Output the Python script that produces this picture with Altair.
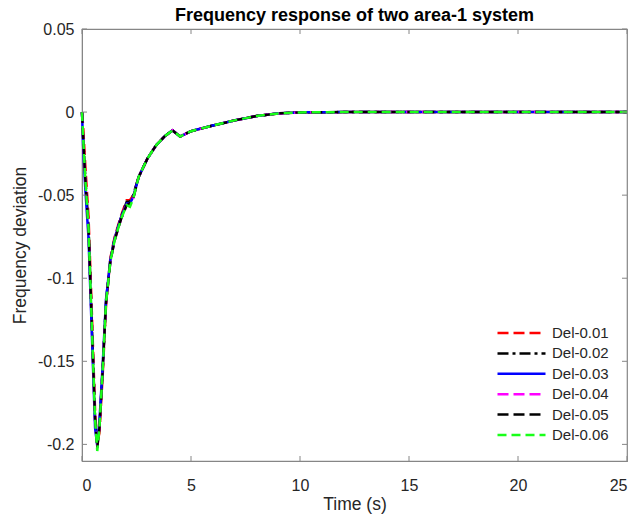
import altair as alt
import pandas as pd

# ---------------- data ----------------
time_s = [0, 0.05, 0.15, 0.3, 0.45, 0.6, 0.7, 0.8, 0.95, 1.1, 1.3, 1.5, 1.8, 2.05, 2.2, 2.35,
          2.6, 3.0, 3.4, 3.8, 4.15, 4.5, 5.0, 5.5, 6.0, 7.0, 8.0, 9.0, 10, 12, 15, 20, 25]

tail = [-0.039, -0.028, -0.020, -0.0145, -0.011, -0.0147, -0.0115, -0.0098, -0.0081,
        -0.005, -0.0024, -0.0008, -0.0002, 0, 0, 0, 0]

del_001 = [0, -0.008, -0.032, -0.063, -0.120, -0.180, -0.199, -0.193, -0.158, -0.117,
           -0.088, -0.075, -0.062, -0.053, -0.053, -0.050] + tail
del_002 = [0, -0.014, -0.039, -0.069, -0.127, -0.184, -0.200, -0.189, -0.154, -0.114,
           -0.089, -0.076, -0.063, -0.054, -0.054, -0.050] + tail
del_003 = [0, -0.020, -0.046, -0.076, -0.133, -0.190, -0.201, -0.186, -0.152, -0.113,
           -0.089, -0.076, -0.063, -0.055, -0.055, -0.051] + tail
del_004 = [0, -0.015, -0.040, -0.070, -0.128, -0.185, -0.202, -0.190, -0.155, -0.115,
           -0.090, -0.077, -0.064, -0.056, -0.056, -0.052] + tail
del_005 = [0, -0.015, -0.040, -0.070, -0.128, -0.185, -0.202, -0.190, -0.155, -0.115,
           -0.090, -0.077, -0.064, -0.056, -0.055, -0.052] + tail
del_006 = [0, -0.015, -0.040, -0.070, -0.128, -0.185, -0.204, -0.190, -0.155, -0.115,
           -0.090, -0.077, -0.064, -0.056, -0.057, -0.052] + tail

series_names = ["Del-0.01", "Del-0.02", "Del-0.03", "Del-0.04", "Del-0.05", "Del-0.06"]
series_values = [del_001, del_002, del_003, del_004, del_005, del_006]

x_ticks = [0, 5, 10, 15, 20, 25]
y_ticks = [0.05, 0, -0.05, -0.1, -0.15, -0.2]

# ---------------- styles ----------------
series_colors = ["#ff0000", "#000000", "#0000ff", "#ff00ff", "#000000", "#19ff19"]
series_dash = [[11, 5], [11, 4, 3, 4], [1, 0], [11, 5], [11, 5], [9, 5]]
series_width = [2.5, 2.5, 2.5, 2.5, 3, 5]

W, H = 545, 432
TICK = 5

rows = []
for name, vals in zip(series_names, series_values):
    for t, v in zip(time_s, vals):
        rows.append({"t": t, "v": v, "series": name})
df = pd.DataFrame(rows)
xt = pd.DataFrame({"tick": x_ticks})
yt = pd.DataFrame({"tick": y_ticks})

FONT = "Liberation Sans"
AX = "#868686"
TXT = "#262626"

x_scale = alt.Scale(domain=[0, 25], nice=False, zero=False)
y_scale = alt.Scale(domain=[-0.21, 0.05], nice=False, zero=False)

label_x = alt.Axis(orient="bottom", values=x_ticks, labelExpr="toString(datum.value)",
                   ticks=False, tickSize=0, domain=True, domainColor=AX, grid=False,
                   labelFont=FONT, labelFontSize=16, labelColor=TXT, labelPadding=16,
                   title="Time (s)", titleFont=FONT, titleFontSize=17.5,
                   titleFontWeight="normal", titleColor=TXT, titlePadding=2)
label_y = alt.Axis(orient="left", values=y_ticks, labelExpr="toString(datum.value)",
                   ticks=False, tickSize=0, domain=True, domainColor=AX, grid=False,
                   labelFont=FONT, labelFontSize=16, labelColor=TXT, labelPadding=8,
                   title="Frequency deviation", titleFont=FONT, titleFontSize=17.5,
                   titleFontWeight="normal", titleColor=TXT, titlePadding=8)

lines = alt.Chart(df).mark_line().encode(
    x=alt.X("t:Q", scale=x_scale, axis=label_x),
    y=alt.Y("v:Q", scale=y_scale, axis=label_y),
    color=alt.Color("series:N",
                    scale=alt.Scale(domain=series_names, range=series_colors),
                    legend=alt.Legend(title=None, orient="none", legendX=415, legendY=296.5,
                                      symbolType="M-4.8,0H4.8", symbolSize=100,
                                      symbolStrokeWidth=2.5, symbolOffset=17,
                                      labelFont=FONT, labelFontSize=15, labelColor=TXT,
                                      labelOffset=23, rowPadding=4.4, padding=0)),
    strokeDash=alt.StrokeDash("series:N",
                              scale=alt.Scale(domain=series_names, range=series_dash),
                              legend=alt.Legend(title=None)),
    strokeWidth=alt.StrokeWidth("series:N",
                                scale=alt.Scale(domain=series_names, range=series_width),
                                legend=None),
    order=alt.Order("series:N"),
)

# inward MATLAB-style ticks on all four sides, placed by the axis scales
tick_style = dict(color=AX, strokeWidth=1)
ticks_bottom = alt.Chart(xt).mark_rule(**tick_style).encode(
    x=alt.X("tick:Q", scale=x_scale), y=alt.value(H), y2=alt.value(H - TICK))
ticks_top = alt.Chart(xt).mark_rule(**tick_style).encode(
    x=alt.X("tick:Q", scale=x_scale), y=alt.value(0), y2=alt.value(TICK))
ticks_left = alt.Chart(yt).mark_rule(**tick_style).encode(
    y=alt.Y("tick:Q", scale=y_scale), x=alt.value(0), x2=alt.value(TICK))
ticks_right = alt.Chart(yt).mark_rule(**tick_style).encode(
    y=alt.Y("tick:Q", scale=y_scale), x=alt.value(W), x2=alt.value(W - TICK))

chart = alt.layer(lines, ticks_bottom, ticks_top, ticks_left, ticks_right).properties(
    width=W, height=H,
    padding={"left": 82, "top": 29, "right": 17, "bottom": 54},
    autosize=alt.AutoSizeParams(type="none"),
    title=alt.TitleParams("Frequency response of two area-1 system", font=FONT,
                          fontSize=18, fontWeight="bold", color="#000000",
                          anchor="middle", offset=5, dy=9),
    background="white",
).configure_view(stroke=AX, strokeWidth=1.2)

chart.save("out.html", embed_options={"renderer": "svg", "actions": False})
